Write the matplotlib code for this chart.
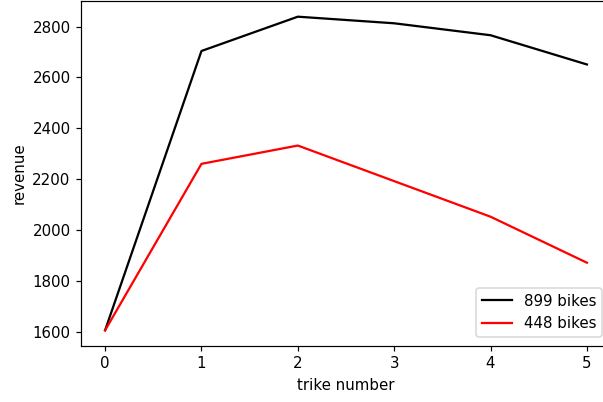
import matplotlib
matplotlib.use('Agg')
import matplotlib.pyplot as plt

# trike count on the x axis
trikes = [0, 1, 2, 3, 4, 5]

# revenue for each fleet size
revenue_899 = [1605, 2704, 2839, 2813, 2766, 2651]
revenue_448 = [1605, 2260, 2332, 2192, 2052, 1871]

labels = ['899 bikes', '448 bikes']

plt.rcParams['font.size'] = 10

fig = plt.figure(figsize=(603 / 108, 402 / 108), dpi=108)
ax = fig.add_axes([81 / 603, 1 - 346 / 402, 530 / 603, 345 / 402])

ax.plot(trikes, revenue_899, color='black', label=labels[0])
ax.plot(trikes, revenue_448, color='red', label=labels[1])

ax.set_xlabel('trike number')
ax.set_ylabel('revenue')
# legend sits just inside the visible right edge of the picture
ax.legend(loc='lower right', bbox_to_anchor=(602 / 603, 1 - 337 / 402),
          bbox_transform=fig.transFigure, borderaxespad=0)

fig.savefig('out.png', dpi=108)
